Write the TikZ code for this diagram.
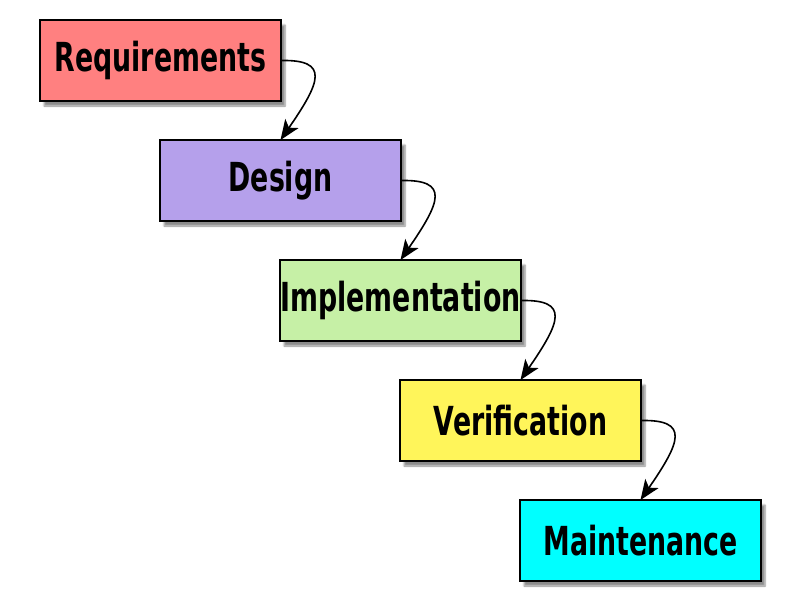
\documentclass[tikz,border=0pt]{standalone}
\usepackage{fontspec}
\newfontfamily\stagefont[FakeStretch=0.67]{DejaVu Sans}
\usepackage{tikz}
\usetikzlibrary{
    positioning,
    arrows.meta,
    shadows.blur
}

\begin{document}
\begin{tikzpicture}[
        x=1pt, y=1pt,
        stage/.style={draw, line width=1.3pt, minimum width=241pt, minimum height=81pt, inner sep=0pt, outer sep=0pt,
            font=\stagefont\bfseries\fontsize{40}{40}\selectfont,
            blur shadow={shadow xshift=4pt, shadow yshift=-5pt, shadow blur steps=6, shadow opacity=45}},
        flow/.style={line width=1.6pt, -{Stealth[length=20pt, width=16pt, inset=5pt]}}
      ]
      \definecolor{reqcol}{RGB}{255,128,128}
      \definecolor{descol}{RGB}{181,160,235}
      \definecolor{impcol}{RGB}{198,240,166}
      \definecolor{vercol}{RGB}{255,245,90}
      \definecolor{maicol}{RGB}{0,255,255}

      \useasboundingbox (0,0) rectangle (800,-600);

      \node[stage, fill=reqcol] (req) at (160.5,-60.5) {Requirements};
      \node[stage, fill=descol, below right=39pt and -121pt of req] (des) {Design};
      \node[stage, fill=impcol, below right=39pt and -121pt of des] (imp) {Implementation};
      \node[stage, fill=vercol, below right=39pt and -121pt of imp] (ver) {Verification};
      \node[stage, fill=maicol, below right=39pt and -121pt of ver] (mai) {Maintenance};

      \draw[flow] (req.east) .. controls +(49,1) and +(40,58) .. (des.north);
      \draw[flow] (des.east) .. controls +(49,1) and +(40,58) .. (imp.north);
      \draw[flow] (imp.east) .. controls +(49,1) and +(40,58) .. (ver.north);
      \draw[flow] (ver.east) .. controls +(49,1) and +(40,58) .. (mai.north);
    \end{tikzpicture}
\end{document}
